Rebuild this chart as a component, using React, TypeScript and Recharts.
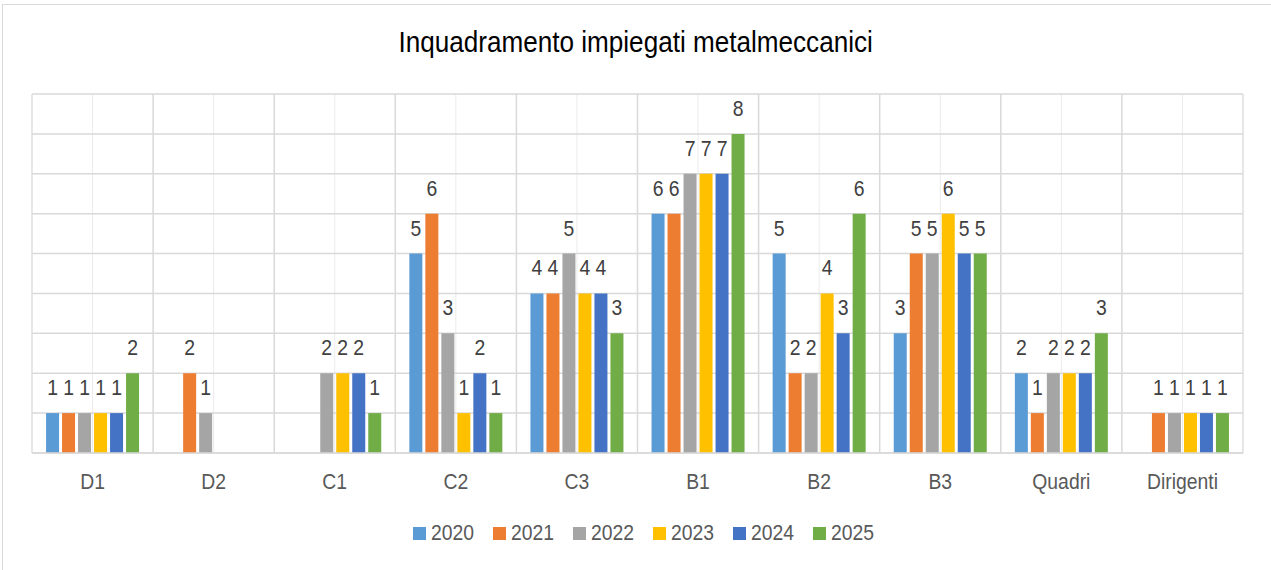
import React from 'react';
import { BarChart, Bar, XAxis, YAxis, CartesianGrid, Legend, LabelList } from 'recharts';

const categories = ['D1', 'D2', 'C1', 'C2', 'C3', 'B1', 'B2', 'B3', 'Quadri', 'Dirigenti'];
const v2020 = [1, null, null, 5, 4, 6, 5, 3, 2, null];
const v2021 = [1, 2, null, 6, 4, 6, 2, 5, 1, 1];
const v2022 = [1, 1, 2, 3, 5, 7, 2, 5, 2, 1];
const v2023 = [1, null, 2, 1, 4, 7, 4, 6, 2, 1];
const v2024 = [1, null, 2, 2, 4, 7, 3, 5, 2, 1];
const v2025 = [2, null, 1, 1, 3, 8, 6, 5, 3, 1];
const seriesNames = ['2020', '2021', '2022', '2023', '2024', '2025'];
const seriesValues = [v2020, v2021, v2022, v2023, v2024, v2025];
const colors = ['#5B9BD5', '#ED7D31', '#A5A5A5', '#FFC000', '#4472C4', '#70AD47'];
const yTicks = [0, 1, 2, 3, 4, 5, 6, 7, 8, 9];
const boundaryTicks = [0, 1, 2, 3, 4, 5, 6, 7, 8, 9, 10];

const data = categories.map((c, i) => {
  const row: any = { name: c, idx: i + 0.5 };
  seriesNames.forEach((s, k) => {
    row[s] = seriesValues[k][i];
  });
  return row;
});

const FONT = "'Liberation Sans', Arial, sans-serif";
const SX = 0.88;

const CatTick = (props: any) => {
  const { x, y, payload } = props;
  return (
    <g transform={`translate(${x},${y})`}>
      <text transform={`scale(${SX},1)`} textAnchor="middle" dy="0.71em" fill="#595959" fontSize={22} fontFamily={FONT}>
        {payload.value}
      </text>
    </g>
  );
};

const BarLabel = (props: any) => {
  const { x, y, width, value } = props;
  if (value === null || value === undefined || value === 0) return null;
  const cx = Number(x) + Number(width) / 2;
  const by = Number(y) - 18;
  return (
    <g transform={`translate(${cx},${by})`}>
      <text transform={`scale(${SX},1)`} textAnchor="middle" fill="#404040" fontSize={22} fontFamily={FONT}>
        {value}
      </text>
    </g>
  );
};

const renderLegend = () => (
  <div
    style={{
      height: 40,
      display: 'flex',
      justifyContent: 'center',
      alignItems: 'center',
      fontFamily: FONT,
      fontSize: 22,
      color: '#595959',
      paddingLeft: 31,
      boxSizing: 'border-box',
    }}
  >
    {seriesNames.map((s, k) => (
      <div key={s} style={{ display: 'flex', alignItems: 'center', width: 80 }}>
        <span style={{ width: 13, height: 13, background: colors[k], display: 'inline-block', marginRight: 5, flex: 'none' }} />
        <span style={{ display: 'inline-block', transform: `scaleX(${SX})`, transformOrigin: 'left center', whiteSpace: 'nowrap' }}>{s}</span>
      </div>
    ))}
  </div>
);

export default function App() {
  return (
    <div style={{ position: 'absolute', left: 0, top: 0, width: 1271, height: 570, background: '#fff', overflow: 'hidden' }}>
      <div
        style={{
          position: 'absolute',
          left: 2,
          top: 4,
          width: 1280,
          height: 580,
          border: '1px solid #D9D9D9',
          boxSizing: 'border-box',
        }}
      />
      <div
        style={{
          position: 'absolute',
          left: 0,
          width: 1271,
          top: 22,
          textAlign: 'center',
          fontFamily: FONT,
          fontSize: 30,
          color: '#000',
          lineHeight: '40px',
        }}
      >
        <span style={{ display: 'inline-block', transform: 'scaleX(0.87)', whiteSpace: 'nowrap' }}>
          Inquadramento impiegati metalmeccanici
        </span>
      </div>
      <div style={{ position: 'absolute', left: 0, top: 0 }}>
        <BarChart
          width={1271}
          height={570}
          data={data}
          margin={{ top: 94, right: 28, left: 32, bottom: 17 }}
          barCategoryGap="11.6%"
          barGap={3}
        >
          <XAxis xAxisId="b" type="number" dataKey="idx" orientation="top" height={0} domain={[0, 10]} ticks={boundaryTicks} hide />
          <CartesianGrid xAxisId="b" horizontal={false} stroke="#D9D9D9" strokeWidth={1.5} />
          <CartesianGrid xAxisId="cat" horizontal={false} stroke="#EBEBEB" strokeWidth={1} />
          <CartesianGrid xAxisId="cat" vertical={false} stroke="#D9D9D9" strokeWidth={1.5} />
          <XAxis
            xAxisId="cat"
            dataKey="name"
            height={60}
            tickLine={false}
            tickMargin={14}
            axisLine={{ stroke: '#D9D9D9', strokeWidth: 1.5 }}
            tick={<CatTick />}
            interval={0}
          />
          <YAxis domain={[0, 9]} ticks={yTicks} hide />
          <Legend verticalAlign="bottom" content={renderLegend} />
          {seriesNames.map((s, k) => (
            <Bar key={s} xAxisId="cat" dataKey={s} fill={colors[k]} isAnimationActive={false}>
              <LabelList dataKey={s} content={<BarLabel />} />
            </Bar>
          ))}
        </BarChart>
      </div>
    </div>
  );
}
